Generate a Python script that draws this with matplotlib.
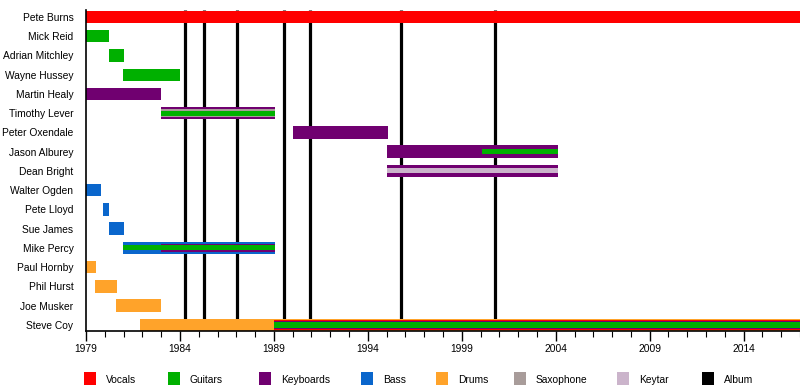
import matplotlib
matplotlib.use("Agg")
import matplotlib.pyplot as plt
from matplotlib.patches import Rectangle

plt.rcParams['font.family'] = ['Liberation Sans', 'DejaVu Sans']

# band members, top to bottom
members = ["Pete Burns", "Mick Reid", "Adrian Mitchley", "Wayne Hussey", "Martin Healy",
           "Timothy Lever", "Peter Oxendale", "Jason Alburey", "Dean Bright", "Walter Ogden",
           "Pete Lloyd", "Sue James", "Mike Percy", "Paul Hornby", "Phil Hurst",
           "Joe Musker", "Steve Coy"]

roles = ["Vocals", "Guitars", "Keyboards", "Bass", "Drums", "Saxophone", "Keytar", "Album"]
role_colors = ["#ff0000", "#00b000", "#700070", "#0a66cc", "#ffa32a", "#a89c9a", "#cbb4cb", "#000000"]

# (member, role, start, end, layer)  layer 0 = full bar, higher = thinner inner band
spans = [
    ("Pete Burns", "Vocals", 1979.0, 2017.0, 0),
    ("Mick Reid", "Guitars", 1979.0, 1980.2, 0),
    ("Adrian Mitchley", "Guitars", 1980.2, 1981.0, 0),
    ("Wayne Hussey", "Guitars", 1980.95, 1984.0, 0),
    ("Martin Healy", "Keyboards", 1979.0, 1983.0, 0),
    ("Timothy Lever", "Keyboards", 1983.0, 1989.05, 0),
    ("Timothy Lever", "Saxophone", 1983.0, 1989.05, 2),
    ("Timothy Lever", "Guitars", 1983.0, 1989.05, 4),
    ("Peter Oxendale", "Keyboards", 1990.0, 1995.05, 0),
    ("Jason Alburey", "Keyboards", 1995.0, 2004.1, 0),
    ("Jason Alburey", "Guitars", 2000.05, 2004.1, 4),
    ("Dean Bright", "Keyboards", 1995.0, 2004.1, 0),
    ("Dean Bright", "Keytar", 1995.0, 2004.1, 4),
    ("Walter Ogden", "Bass", 1979.0, 1979.8, 0),
    ("Pete Lloyd", "Bass", 1979.9, 1980.2, 0),
    ("Sue James", "Bass", 1980.2, 1981.0, 0),
    ("Mike Percy", "Bass", 1980.95, 1989.05, 0),
    ("Mike Percy", "Keyboards", 1983.0, 1989.05, 2),
    ("Mike Percy", "Guitars", 1980.95, 1989.05, 4),
    ("Paul Hornby", "Drums", 1979.0, 1979.55, 0),
    ("Phil Hurst", "Drums", 1979.5, 1980.65, 0),
    ("Joe Musker", "Drums", 1980.6, 1983.0, 0),
    ("Steve Coy", "Drums", 1981.9, 2017.0, 0),
    ("Steve Coy", "Vocals", 1989.0, 2017.0, 1),
    ("Steve Coy", "Keyboards", 1989.0, 2017.0, 2),
    ("Steve Coy", "Guitars", 1989.0, 2017.0, 3),
]

albums = [1984.25, 1985.3, 1987.05, 1989.55, 1990.9, 1995.75, 2000.75]

year_min, year_max = 1979, 2017
layer_heights = [0.64, 0.5, 0.42, 0.32, 0.26]

fig = plt.figure(figsize=(8, 3.9), dpi=100)
ax = fig.add_axes([86 / 800, 1 - 331 / 390, 1 - 86 / 800, (331 - 10) / 390])

color_of = dict(zip(roles, role_colors))
row_of = {m: i for i, m in enumerate(members)}

for member, role, start, end, layer in spans:
    ax.barh(row_of[member], end - start, left=start, height=layer_heights[layer],
            color=color_of[role], linewidth=0, zorder=2 + layer)

ax.vlines(albums, 0, 1, transform=ax.get_xaxis_transform(), color=color_of["Album"],
          linewidth=2.3, zorder=1)

ax.set_xlim(year_min, year_max)
ax.set_ylim(len(members) - 1 + 0.32, -0.36)
ax.set_yticks(range(len(members)))
ax.set_yticklabels(members, fontsize=7.4)
ax.tick_params(axis='y', length=0, pad=9)
ax.set_xticks(range(year_min, year_max, 5))
ax.set_xticks(range(year_min, year_max + 1), minor=True)
ax.tick_params(axis='x', which='major', length=7, width=1, labelsize=7.4, pad=2)
ax.tick_params(axis='x', which='minor', length=4, width=0.8)
for side in ['top', 'right']:
    ax.spines[side].set_visible(False)
for side in ['left', 'bottom']:
    ax.spines[side].set_linewidth(1.2)

# legend row
legend_x = [84, 168, 259, 361, 436, 514, 617, 702]
for x, role, color in zip(legend_x, roles, role_colors):
    fig.add_artist(Rectangle((x / 800, 1 - 385 / 390), 12 / 800, 13 / 390,
                             transform=fig.transFigure, color=color, linewidth=0))
    fig.text((x + 22) / 800, 1 - 380 / 390, role, fontsize=7.4, va='center', ha='left')

fig.savefig("out.png", dpi=100)
